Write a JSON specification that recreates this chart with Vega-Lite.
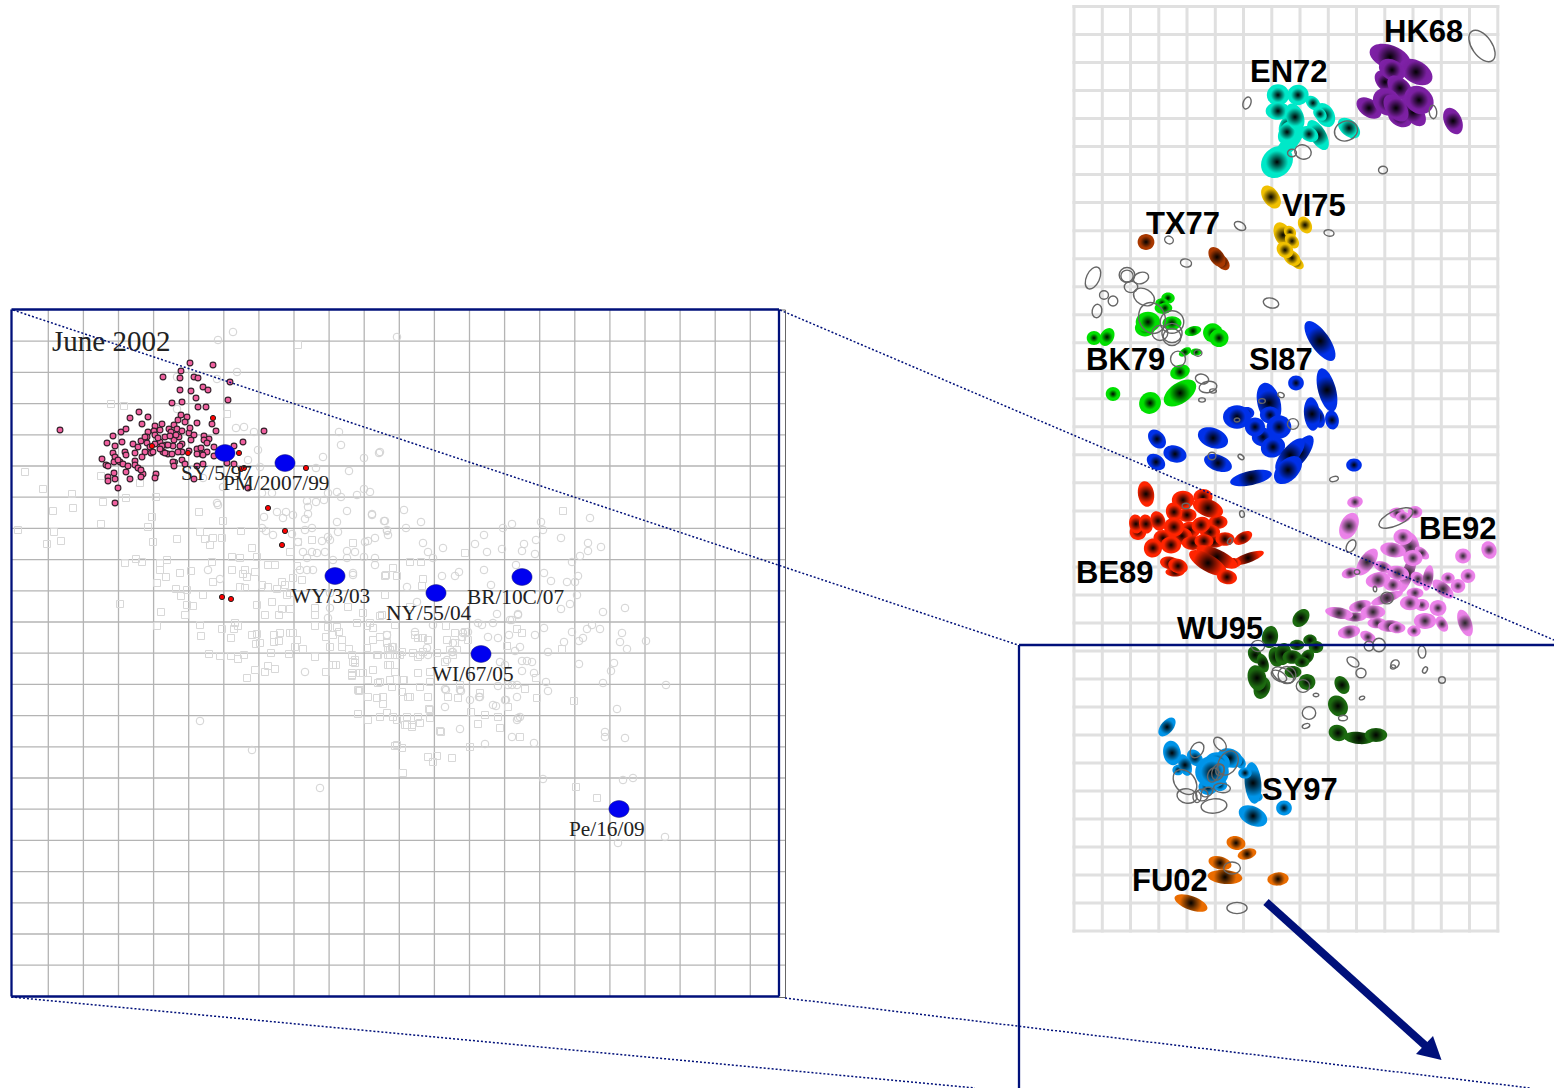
{"$schema":"https://vega.github.io/schema/vega-lite/v6.json","width":1554,"height":1088,"autosize":"none","padding":0,"background":"white","config":{"view":{"stroke":null}},
"datasets":{
"gridR":[{"x":1074,"y":5,"x2":1074,"y2":932.5},{"x":1102.3,"y":5,"x2":1102.3,"y2":932.5},{"x":1130.5,"y":5,"x2":1130.5,"y2":932.5},{"x":1158.8,"y":5,"x2":1158.8,"y2":932.5},{"x":1187,"y":5,"x2":1187,"y2":932.5},{"x":1215.3,"y":5,"x2":1215.3,"y2":932.5},{"x":1243.5,"y":5,"x2":1243.5,"y2":932.5},{"x":1271.8,"y":5,"x2":1271.8,"y2":932.5},{"x":1300,"y":5,"x2":1300,"y2":932.5},{"x":1328.3,"y":5,"x2":1328.3,"y2":932.5},{"x":1356.5,"y":5,"x2":1356.5,"y2":932.5},{"x":1384.8,"y":5,"x2":1384.8,"y2":932.5},{"x":1413,"y":5,"x2":1413,"y2":932.5},{"x":1441.3,"y":5,"x2":1441.3,"y2":932.5},{"x":1469.5,"y":5,"x2":1469.5,"y2":932.5},{"x":1497.8,"y":5,"x2":1497.8,"y2":932.5},
{"x":1072.5,"y":6.5,"x2":1499.3,"y2":6.5},{"x":1072.5,"y":34.5,"x2":1499.3,"y2":34.5},{"x":1072.5,"y":62.5,"x2":1499.3,"y2":62.5},{"x":1072.5,"y":90.6,"x2":1499.3,"y2":90.6},{"x":1072.5,"y":118.6,"x2":1499.3,"y2":118.6},{"x":1072.5,"y":146.6,"x2":1499.3,"y2":146.6},{"x":1072.5,"y":174.6,"x2":1499.3,"y2":174.6},{"x":1072.5,"y":202.6,"x2":1499.3,"y2":202.6},{"x":1072.5,"y":230.7,"x2":1499.3,"y2":230.7},{"x":1072.5,"y":258.7,"x2":1499.3,"y2":258.7},{"x":1072.5,"y":286.7,"x2":1499.3,"y2":286.7},{"x":1072.5,"y":314.7,"x2":1499.3,"y2":314.7},{"x":1072.5,"y":342.7,"x2":1499.3,"y2":342.7},{"x":1072.5,"y":370.8,"x2":1499.3,"y2":370.8},{"x":1072.5,"y":398.8,"x2":1499.3,"y2":398.8},{"x":1072.5,"y":426.8,"x2":1499.3,"y2":426.8},{"x":1072.5,"y":454.8,"x2":1499.3,"y2":454.8},{"x":1072.5,"y":482.8,"x2":1499.3,"y2":482.8},{"x":1072.5,"y":510.9,"x2":1499.3,"y2":510.9},{"x":1072.5,"y":538.9,"x2":1499.3,"y2":538.9},{"x":1072.5,"y":566.9,"x2":1499.3,"y2":566.9},{"x":1072.5,"y":594.9,"x2":1499.3,"y2":594.9},{"x":1072.5,"y":622.9,"x2":1499.3,"y2":622.9},{"x":1072.5,"y":651,"x2":1499.3,"y2":651},{"x":1072.5,"y":679,"x2":1499.3,"y2":679},{"x":1072.5,"y":707,"x2":1499.3,"y2":707},{"x":1072.5,"y":735,"x2":1499.3,"y2":735},{"x":1072.5,"y":763,"x2":1499.3,"y2":763},{"x":1072.5,"y":791,"x2":1499.3,"y2":791},{"x":1072.5,"y":819.1,"x2":1499.3,"y2":819.1},{"x":1072.5,"y":847.1,"x2":1499.3,"y2":847.1},{"x":1072.5,"y":875.1,"x2":1499.3,"y2":875.1},{"x":1072.5,"y":903.1,"x2":1499.3,"y2":903.1},{"x":1072.5,"y":931.1,"x2":1499.3,"y2":931.1}],
"gridL":[{"x":48.3,"y":310,"x2":48.3,"y2":996},{"x":83.4,"y":310,"x2":83.4,"y2":996},{"x":118.5,"y":310,"x2":118.5,"y2":996},{"x":153.6,"y":310,"x2":153.6,"y2":996},{"x":188.7,"y":310,"x2":188.7,"y2":996},{"x":223.8,"y":310,"x2":223.8,"y2":996},{"x":258.9,"y":310,"x2":258.9,"y2":996},{"x":294,"y":310,"x2":294,"y2":996},{"x":329.1,"y":310,"x2":329.1,"y2":996},{"x":364.2,"y":310,"x2":364.2,"y2":996},{"x":399.3,"y":310,"x2":399.3,"y2":996},{"x":434.4,"y":310,"x2":434.4,"y2":996},{"x":469.5,"y":310,"x2":469.5,"y2":996},{"x":504.6,"y":310,"x2":504.6,"y2":996},{"x":539.7,"y":310,"x2":539.7,"y2":996},{"x":574.8,"y":310,"x2":574.8,"y2":996},{"x":609.9,"y":310,"x2":609.9,"y2":996},{"x":645,"y":310,"x2":645,"y2":996},{"x":680.1,"y":310,"x2":680.1,"y2":996},{"x":715.2,"y":310,"x2":715.2,"y2":996},{"x":750.3,"y":310,"x2":750.3,"y2":996},
{"x":12,"y":341.2,"x2":785,"y2":341.2},{"x":12,"y":372.4,"x2":785,"y2":372.4},{"x":12,"y":403.6,"x2":785,"y2":403.6},{"x":12,"y":434.8,"x2":785,"y2":434.8},{"x":12,"y":466,"x2":785,"y2":466},{"x":12,"y":497.2,"x2":785,"y2":497.2},{"x":12,"y":528.4,"x2":785,"y2":528.4},{"x":12,"y":559.6,"x2":785,"y2":559.6},{"x":12,"y":590.8,"x2":785,"y2":590.8},{"x":12,"y":622,"x2":785,"y2":622},{"x":12,"y":653.2,"x2":785,"y2":653.2},{"x":12,"y":684.4,"x2":785,"y2":684.4},{"x":12,"y":715.6,"x2":785,"y2":715.6},{"x":12,"y":746.8,"x2":785,"y2":746.8},{"x":12,"y":778,"x2":785,"y2":778},{"x":12,"y":809.2,"x2":785,"y2":809.2},{"x":12,"y":840.4,"x2":785,"y2":840.4},{"x":12,"y":871.6,"x2":785,"y2":871.6},{"x":12,"y":902.8,"x2":785,"y2":902.8},{"x":12,"y":934,"x2":785,"y2":934},{"x":12,"y":965.2,"x2":785,"y2":965.2}],
"outerGrey":[{"x":785.5,"y":310,"x2":785.5,"y2":997.5},{"x":779,"y":310,"x2":785.5,"y2":310},{"x":779,"y":997.5,"x2":785.5,"y2":997.5}],
"frames":[{"x":11.5,"y":309.5,"x2":779,"y2":309.5},{"x":11.5,"y":996.5,"x2":779,"y2":996.5},{"x":11.5,"y":309.5,"x2":11.5,"y2":996.5},{"x":779,"y":309.5,"x2":779,"y2":996.5},{"x":1019,"y":645,"x2":1554,"y2":645},{"x":1019,"y":645,"x2":1019,"y2":1088}],
"dotted":[{"x":13,"y":310,"x2":1018,"y2":645},{"x":780,"y":310,"x2":1554,"y2":640},{"x":11,"y":997,"x2":975,"y2":1088},{"x":785,"y":998,"x2":1530,"y2":1088}],
"arrow":[{"x":1266,"y":902,"x2":1428,"y2":1048}],
"arrowHead":[{"x":1430,"y":1050}],
"ellipses":[
{"c":"HK68","x":1390,"y":57,"major":38,"ratio":1.8,"tilt":20},{"c":"HK68","x":1416,"y":72,"major":32,"ratio":1.6,"tilt":30},{"c":"HK68","x":1385,"y":82,"major":23,"ratio":1.6,"tilt":50},{"c":"HK68","x":1392,"y":70,"major":25,"ratio":1.4,"tilt":30},{"c":"HK68","x":1400,"y":88,"major":27,"ratio":1.6,"tilt":45},{"c":"HK68","x":1400,"y":117,"major":23,"ratio":1.4,"tilt":30},{"c":"HK68","x":1413,"y":112,"major":30,"ratio":1.8,"tilt":50},{"c":"HK68","x":1369,"y":108,"major":25,"ratio":1.6,"tilt":35},{"c":"HK68","x":1387,"y":102,"major":27,"ratio":1.2,"tilt":40},{"c":"HK68","x":1396,"y":108,"major":28,"ratio":1.6,"tilt":50},{"c":"HK68","x":1419,"y":100,"major":28,"ratio":1.2,"tilt":40},{"c":"HK68","x":1453,"y":121,"major":25,"ratio":1.6,"tilt":65},
{"c":"tail","x":1289,"y":144,"major":40,"ratio":3,"tilt":-50},
{"c":"EN72","x":1287,"y":125,"major":20,"ratio":1.6,"tilt":-60},{"c":"EN72","x":1287,"y":132,"major":22,"ratio":1.6,"tilt":-60},{"c":"EN72","x":1278,"y":95,"major":20,"ratio":1.05,"tilt":0},{"c":"EN72","x":1298,"y":95,"major":19,"ratio":1.05,"tilt":0},{"c":"EN72","x":1278,"y":111,"major":22,"ratio":1.4,"tilt":0},{"c":"EN72","x":1295,"y":117,"major":25,"ratio":1.6,"tilt":70},{"c":"EN72","x":1325,"y":115,"major":23,"ratio":1.4,"tilt":60},{"c":"EN72","x":1313,"y":103,"major":15,"ratio":1.4,"tilt":45},{"c":"EN72","x":1320,"y":114,"major":14,"ratio":1.4,"tilt":45},{"c":"EN72","x":1318,"y":135,"major":30,"ratio":2.1,"tilt":60},{"c":"EN72","x":1309,"y":134,"major":18,"ratio":1.4,"tilt":30},{"c":"EN72","x":1277,"y":162,"major":31,"ratio":1.2,"tilt":-45},{"c":"EN72","x":1349,"y":128,"major":23,"ratio":1.6,"tilt":40},
{"c":"VI75","x":1271,"y":197,"major":23,"ratio":1.6,"tilt":55},{"c":"VI75","x":1305,"y":225,"major":16,"ratio":1.4,"tilt":60},{"c":"VI75","x":1297,"y":263,"major":14,"ratio":1.6,"tilt":40},{"c":"VI75","x":1292,"y":258,"major":17,"ratio":1.4,"tilt":40},{"c":"VI75","x":1283,"y":235,"major":24,"ratio":1.6,"tilt":65},{"c":"VI75","x":1290,"y":232,"major":12,"ratio":1.2,"tilt":50},{"c":"VI75","x":1292,"y":241,"major":15,"ratio":1.4,"tilt":50},{"c":"VI75","x":1285,"y":250,"major":16,"ratio":1.2,"tilt":40},
{"c":"TX77","x":1146,"y":242,"major":15,"ratio":1.05,"tilt":0},{"c":"TX77","x":1222,"y":262,"major":17,"ratio":1.6,"tilt":50},{"c":"TX77","x":1217,"y":257,"major":20,"ratio":1.6,"tilt":55},
{"c":"BK79","x":1168,"y":298,"major":12,"ratio":1.2,"tilt":0},{"c":"BK79","x":1163,"y":308,"major":15,"ratio":1.4,"tilt":0},{"c":"BK79","x":1162,"y":303,"major":12,"ratio":1.4,"tilt":0},{"c":"BK79","x":1165,"y":308,"major":13,"ratio":1.4,"tilt":0},{"c":"BK79","x":1145,"y":328,"major":18,"ratio":1.2,"tilt":0},{"c":"BK79","x":1148,"y":322,"major":22,"ratio":1.2,"tilt":0},{"c":"BK79","x":1172,"y":323,"major":17,"ratio":1.4,"tilt":0},{"c":"BK79","x":1094,"y":338,"major":13,"ratio":1.05,"tilt":0},{"c":"BK79","x":1107,"y":337,"major":17,"ratio":1.4,"tilt":-60},{"c":"BK79","x":1193,"y":331,"major":15,"ratio":1.8,"tilt":-15},{"c":"BK79","x":1213,"y":333,"major":18,"ratio":1.05,"tilt":30},{"c":"BK79","x":1219,"y":338,"major":17,"ratio":1.05,"tilt":0},{"c":"BK79","x":1185,"y":352,"major":12,"ratio":1.8,"tilt":-30},{"c":"BK79","x":1196,"y":352,"major":10,"ratio":1.6,"tilt":0},{"c":"BK79","x":1180,"y":372,"major":18,"ratio":1.4,"tilt":-20},{"c":"BK79","x":1180,"y":393,"major":33,"ratio":1.8,"tilt":-35},{"c":"BK79","x":1150,"y":403,"major":20,"ratio":1.05,"tilt":-50},{"c":"BK79","x":1113,"y":394,"major":13,"ratio":1.05,"tilt":0},
{"c":"SI87","x":1320,"y":341,"major":42,"ratio":2.5,"tilt":55},{"c":"SI87","x":1327,"y":390,"major":40,"ratio":2.5,"tilt":75},{"c":"SI87","x":1296,"y":383,"major":14,"ratio":1.05,"tilt":0},{"c":"SI87","x":1269,"y":403,"major":37,"ratio":1.8,"tilt":75},{"c":"SI87","x":1247,"y":413,"major":13,"ratio":1.2,"tilt":0},{"c":"SI87","x":1270,"y":415,"major":18,"ratio":1.2,"tilt":0},{"c":"SI87","x":1237,"y":417,"major":25,"ratio":1.2,"tilt":0},{"c":"SI87","x":1263,"y":437,"major":20,"ratio":1.2,"tilt":0},{"c":"SI87","x":1255,"y":427,"major":18,"ratio":1.05,"tilt":0},{"c":"SI87","x":1279,"y":427,"major":22,"ratio":1.05,"tilt":0},{"c":"SI87","x":1273,"y":447,"major":22,"ratio":1.2,"tilt":-20},{"c":"SI87","x":1318,"y":417,"major":20,"ratio":1.8,"tilt":70},{"c":"SI87","x":1312,"y":414,"major":30,"ratio":2.1,"tilt":85},{"c":"SI87","x":1332,"y":420,"major":17,"ratio":1.4,"tilt":80},{"c":"SI87","x":1157,"y":439,"major":19,"ratio":1.4,"tilt":50},{"c":"SI87","x":1175,"y":454,"major":21,"ratio":1.4,"tilt":15},{"c":"SI87","x":1156,"y":462,"major":18,"ratio":1.4,"tilt":35},{"c":"SI87","x":1213,"y":438,"major":28,"ratio":1.6,"tilt":20},{"c":"SI87","x":1218,"y":463,"major":26,"ratio":1.8,"tilt":20},{"c":"SI87","x":1251,"y":478,"major":38,"ratio":3,"tilt":-12},{"c":"SI87","x":1300,"y":453,"major":37,"ratio":2.5,"tilt":-55},{"c":"SI87","x":1290,"y":455,"major":37,"ratio":2.5,"tilt":-50},{"c":"SI87","x":1288,"y":470,"major":30,"ratio":1.6,"tilt":-45},{"c":"SI87","x":1354,"y":465,"major":14,"ratio":1.2,"tilt":0},
{"c":"BE89","x":1146,"y":494,"major":23,"ratio":1.6,"tilt":80},{"c":"BE89","x":1183,"y":500,"major":20,"ratio":1.2,"tilt":0},{"c":"BE89","x":1203,"y":497,"major":17,"ratio":1.2,"tilt":0},{"c":"BE89","x":1190,"y":530,"major":18,"ratio":1.2,"tilt":0},{"c":"BE89","x":1182,"y":536,"major":18,"ratio":1.2,"tilt":0},{"c":"BE89","x":1218,"y":522,"major":17,"ratio":1.4,"tilt":0},{"c":"BE89","x":1208,"y":508,"major":28,"ratio":1.8,"tilt":20},{"c":"BE89","x":1187,"y":515,"major":17,"ratio":1.4,"tilt":0},{"c":"BE89","x":1174,"y":512,"major":17,"ratio":1.2,"tilt":70},{"c":"BE89","x":1138,"y":532,"major":15,"ratio":1.05,"tilt":0},{"c":"BE89","x":1136,"y":524,"major":17,"ratio":1.4,"tilt":80},{"c":"BE89","x":1146,"y":524,"major":17,"ratio":1.4,"tilt":80},{"c":"BE89","x":1158,"y":521,"major":18,"ratio":1.4,"tilt":70},{"c":"BE89","x":1210,"y":532,"major":18,"ratio":1.4,"tilt":0},{"c":"BE89","x":1174,"y":527,"major":18,"ratio":1.05,"tilt":0},{"c":"BE89","x":1201,"y":525,"major":17,"ratio":1.2,"tilt":-20},{"c":"BE89","x":1163,"y":538,"major":17,"ratio":1.2,"tilt":0},{"c":"BE89","x":1193,"y":543,"major":20,"ratio":1.6,"tilt":0},{"c":"BE89","x":1214,"y":542,"major":18,"ratio":1.8,"tilt":0},{"c":"BE89","x":1171,"y":545,"major":18,"ratio":1.2,"tilt":0},{"c":"BE89","x":1204,"y":541,"major":17,"ratio":1.4,"tilt":0},{"c":"BE89","x":1225,"y":539,"major":17,"ratio":1.4,"tilt":0},{"c":"BE89","x":1243,"y":538,"major":18,"ratio":1.8,"tilt":-30},{"c":"BE89","x":1153,"y":548,"major":17,"ratio":1.05,"tilt":-70},{"c":"BE89","x":1248,"y":558,"major":30,"ratio":3.6,"tilt":-20},{"c":"BE89","x":1175,"y":572,"major":17,"ratio":2.1,"tilt":0},{"c":"BE89","x":1170,"y":563,"major":18,"ratio":1.6,"tilt":10},{"c":"BE89","x":1178,"y":566,"major":18,"ratio":1.4,"tilt":20},{"c":"BE89","x":1233,"y":563,"major":14,"ratio":1.6,"tilt":0},{"c":"BE89","x":1217,"y":557,"major":40,"ratio":3,"tilt":25},{"c":"BE89","x":1208,"y":563,"major":38,"ratio":2.5,"tilt":30},{"c":"BE89","x":1227,"y":577,"major":18,"ratio":1.4,"tilt":10},
{"c":"BE92","x":1355,"y":502,"major":14,"ratio":1.4,"tilt":-10},{"c":"BE92","x":1349,"y":526,"major":25,"ratio":1.6,"tilt":-65},{"c":"BE92","x":1397,"y":513,"major":14,"ratio":1.4,"tilt":0},{"c":"BE92","x":1415,"y":512,"major":13,"ratio":1.2,"tilt":0},{"c":"BE92","x":1403,"y":517,"major":13,"ratio":1.4,"tilt":0},{"c":"BE92","x":1408,"y":573,"major":37,"ratio":3.6,"tilt":-70},{"c":"BE92","x":1410,"y":547,"major":27,"ratio":1.6,"tilt":80},{"c":"BE92","x":1403,"y":537,"major":17,"ratio":1.2,"tilt":0},{"c":"BE92","x":1422,"y":553,"major":15,"ratio":1.8,"tilt":40},{"c":"BE92","x":1393,"y":550,"major":23,"ratio":1.8,"tilt":10},{"c":"BE92","x":1413,"y":558,"major":17,"ratio":1.2,"tilt":0},{"c":"BE92","x":1463,"y":556,"major":14,"ratio":1.05,"tilt":0},{"c":"BE92","x":1489,"y":550,"major":16,"ratio":1.2,"tilt":70},{"c":"BE92","x":1367,"y":562,"major":28,"ratio":2.1,"tilt":-55},{"c":"BE92","x":1383,"y":567,"major":17,"ratio":1.8,"tilt":20},{"c":"BE92","x":1350,"y":573,"major":15,"ratio":1.6,"tilt":-15},{"c":"BE92","x":1393,"y":585,"major":17,"ratio":1.6,"tilt":0},{"c":"BE92","x":1378,"y":580,"major":22,"ratio":1.6,"tilt":-10},{"c":"BE92","x":1398,"y":573,"major":20,"ratio":1.6,"tilt":10},{"c":"BE92","x":1418,"y":579,"major":15,"ratio":1.4,"tilt":45},{"c":"BE92","x":1428,"y":578,"major":23,"ratio":2.5,"tilt":-80},{"c":"BE92","x":1448,"y":578,"major":12,"ratio":1.2,"tilt":0},{"c":"BE92","x":1443,"y":589,"major":23,"ratio":2.1,"tilt":40},{"c":"BE92","x":1458,"y":586,"major":13,"ratio":1.05,"tilt":0},{"c":"BE92","x":1468,"y":576,"major":13,"ratio":1.05,"tilt":0},{"c":"BE92","x":1415,"y":593,"major":15,"ratio":1.6,"tilt":0},{"c":"BE92","x":1387,"y":598,"major":30,"ratio":3.6,"tilt":-20},{"c":"BE92","x":1422,"y":605,"major":13,"ratio":1.2,"tilt":0},{"c":"BE92","x":1410,"y":603,"major":18,"ratio":1.4,"tilt":0},{"c":"BE92","x":1438,"y":608,"major":15,"ratio":1.05,"tilt":0},{"c":"BE92","x":1360,"y":606,"major":20,"ratio":2.1,"tilt":-15},{"c":"BE92","x":1355,"y":617,"major":20,"ratio":2.5,"tilt":0},{"c":"BE92","x":1339,"y":613,"major":25,"ratio":2.5,"tilt":10},{"c":"BE92","x":1373,"y":612,"major":22,"ratio":1.8,"tilt":0},{"c":"BE92","x":1425,"y":621,"major":20,"ratio":1.4,"tilt":0},{"c":"BE92","x":1377,"y":623,"major":17,"ratio":1.8,"tilt":0},{"c":"BE92","x":1390,"y":626,"major":22,"ratio":2.1,"tilt":0},{"c":"BE92","x":1349,"y":632,"major":20,"ratio":1.8,"tilt":-10},{"c":"BE92","x":1442,"y":624,"major":15,"ratio":1.6,"tilt":60},{"c":"BE92","x":1465,"y":623,"major":25,"ratio":2.1,"tilt":70},{"c":"BE92","x":1414,"y":631,"major":12,"ratio":1.2,"tilt":0},{"c":"BE92","x":1368,"y":637,"major":15,"ratio":1.6,"tilt":30},{"c":"BE92","x":1397,"y":628,"major":15,"ratio":1.6,"tilt":0},
{"c":"WU95","x":1301,"y":618,"major":18,"ratio":1.4,"tilt":-50},{"c":"WU95","x":1270,"y":637,"major":20,"ratio":1.4,"tilt":-80},{"c":"WU95","x":1310,"y":640,"major":12,"ratio":1.2,"tilt":0},{"c":"WU95","x":1316,"y":647,"major":13,"ratio":1.2,"tilt":0},{"c":"WU95","x":1297,"y":645,"major":13,"ratio":1.4,"tilt":0},{"c":"WU95","x":1255,"y":655,"major":16,"ratio":1.4,"tilt":60},{"c":"WU95","x":1263,"y":663,"major":17,"ratio":1.8,"tilt":70},{"c":"WU95","x":1293,"y":672,"major":15,"ratio":1.4,"tilt":0},{"c":"WU95","x":1276,"y":657,"major":18,"ratio":1.4,"tilt":75},{"c":"WU95","x":1283,"y":654,"major":20,"ratio":1.4,"tilt":-80},{"c":"WU95","x":1292,"y":657,"major":17,"ratio":1.4,"tilt":0},{"c":"WU95","x":1307,"y":657,"major":15,"ratio":1.4,"tilt":-50},{"c":"WU95","x":1302,"y":662,"major":13,"ratio":1.4,"tilt":0},{"c":"WU95","x":1262,"y":688,"major":20,"ratio":1.4,"tilt":-70},{"c":"WU95","x":1257,"y":678,"major":23,"ratio":1.4,"tilt":75},{"c":"WU95","x":1307,"y":682,"major":15,"ratio":1.05,"tilt":0},{"c":"WU95","x":1342,"y":685,"major":17,"ratio":1.4,"tilt":60},{"c":"WU95","x":1338,"y":706,"major":20,"ratio":1.2,"tilt":55},{"c":"WU95","x":1338,"y":733,"major":17,"ratio":1.2,"tilt":20},{"c":"WU95","x":1359,"y":738,"major":27,"ratio":2.5,"tilt":5},{"c":"WU95","x":1376,"y":735,"major":20,"ratio":1.6,"tilt":0},
{"c":"SY97","x":1167,"y":727,"major":20,"ratio":1.8,"tilt":-50},{"c":"SY97","x":1172,"y":753,"major":22,"ratio":1.4,"tilt":80},{"c":"SY97","x":1178,"y":770,"major":10,"ratio":1.05,"tilt":0},{"c":"SY97","x":1195,"y":758,"major":17,"ratio":1.4,"tilt":50},{"c":"SY97","x":1185,"y":765,"major":20,"ratio":1.8,"tilt":70},{"c":"SY97","x":1240,"y":762,"major":13,"ratio":1.4,"tilt":60},{"c":"SY97","x":1230,"y":758,"major":23,"ratio":1.4,"tilt":20},{"c":"SY97","x":1217,"y":763,"major":23,"ratio":1.2,"tilt":0},{"c":"SY97","x":1208,"y":787,"major":17,"ratio":1.2,"tilt":0},{"c":"SY97","x":1220,"y":785,"major":13,"ratio":1.2,"tilt":0},{"c":"SY97","x":1212,"y":772,"major":30,"ratio":1.05,"tilt":0},{"c":"SY97","x":1257,"y":797,"major":10,"ratio":1.2,"tilt":0},{"c":"SY97","x":1253,"y":783,"major":37,"ratio":2.5,"tilt":85},{"c":"SY97","x":1245,"y":773,"major":12,"ratio":1.2,"tilt":0},{"c":"SY97","x":1284,"y":808,"major":14,"ratio":1.05,"tilt":0},{"c":"SY97","x":1253,"y":816,"major":27,"ratio":1.6,"tilt":25},
{"c":"FU02","x":1236,"y":843,"major":17,"ratio":1.4,"tilt":10},{"c":"FU02","x":1247,"y":854,"major":17,"ratio":1.8,"tilt":-15},{"c":"FU02","x":1220,"y":863,"major":21,"ratio":1.8,"tilt":15},{"c":"FU02","x":1225,"y":877,"major":31,"ratio":2.5,"tilt":5},{"c":"FU02","x":1278,"y":879,"major":19,"ratio":1.6,"tilt":-5},{"c":"FU02","x":1191,"y":903,"major":31,"ratio":2.5,"tilt":20},
{"c":"ring","x":1482,"y":46,"major":32,"ratio":1.8,"tilt":55},{"c":"ring","x":1247,"y":103,"major":11,"ratio":1.6,"tilt":-70},{"c":"ring","x":1433,"y":112,"major":12,"ratio":1.8,"tilt":85},{"c":"ring","x":1346,"y":131,"major":21,"ratio":1.2,"tilt":-20},{"c":"ring","x":1303,"y":152,"major":15,"ratio":1.2,"tilt":20},{"c":"ring","x":1292,"y":153,"major":8,"ratio":1.2,"tilt":0},{"c":"ring","x":1383,"y":170,"major":8,"ratio":1.2,"tilt":0},{"c":"ring","x":1240,"y":226,"major":11,"ratio":1.6,"tilt":30},{"c":"ring","x":1329,"y":233,"major":9,"ratio":1.6,"tilt":10},{"c":"ring","x":1169,"y":240,"major":8,"ratio":1.2,"tilt":30},{"c":"ring","x":1186,"y":263,"major":10,"ratio":1.4,"tilt":15},{"c":"ring","x":1093,"y":278,"major":21,"ratio":1.8,"tilt":-65},{"c":"ring","x":1104,"y":295,"major":8,"ratio":1.05,"tilt":0},{"c":"ring","x":1113,"y":301,"major":9,"ratio":1.05,"tilt":90},{"c":"ring","x":1097,"y":311,"major":12,"ratio":1.4,"tilt":-80},{"c":"ring","x":1127,"y":275,"major":14,"ratio":1.05,"tilt":0},{"c":"ring","x":1127,"y":276,"major":11,"ratio":1.05,"tilt":0},{"c":"ring","x":1141,"y":278,"major":14,"ratio":1.4,"tilt":-20},{"c":"ring","x":1131,"y":287,"major":12,"ratio":1.2,"tilt":0},{"c":"ring","x":1144,"y":297,"major":20,"ratio":1.4,"tilt":30},{"c":"ring","x":1271,"y":303,"major":14,"ratio":1.6,"tilt":15},{"c":"ring","x":1152,"y":318,"major":28,"ratio":1.2,"tilt":70},{"c":"ring","x":1172,"y":322,"major":21,"ratio":1.05,"tilt":0},{"c":"ring","x":1160,"y":333,"major":14,"ratio":1.05,"tilt":0},{"c":"ring","x":1172,"y":333,"major":18,"ratio":1.05,"tilt":0},{"c":"ring","x":1172,"y":337,"major":16,"ratio":1.05,"tilt":0},{"c":"ring","x":1178,"y":359,"major":14,"ratio":1.05,"tilt":90},{"c":"ring","x":1198,"y":353,"major":7,"ratio":1.2,"tilt":0},{"c":"ring","x":1202,"y":379,"major":12,"ratio":1.4,"tilt":15},{"c":"ring","x":1208,"y":387,"major":16,"ratio":1.6,"tilt":-10},{"c":"ring","x":1213,"y":391,"major":6,"ratio":1.6,"tilt":0},{"c":"ring","x":1202,"y":400,"major":6,"ratio":1.6,"tilt":0},{"c":"ring","x":1262,"y":401,"major":6,"ratio":1.4,"tilt":0},{"c":"ring","x":1281,"y":395,"major":6,"ratio":1.4,"tilt":30},{"c":"ring","x":1237,"y":420,"major":5,"ratio":1.4,"tilt":0},{"c":"ring","x":1293,"y":424,"major":10,"ratio":1.05,"tilt":0},{"c":"ring","x":1212,"y":456,"major":7,"ratio":1.05,"tilt":0},{"c":"ring","x":1241,"y":457,"major":6,"ratio":1.6,"tilt":40},{"c":"ring","x":1334,"y":479,"major":8,"ratio":1.8,"tilt":-15},{"c":"ring","x":1186,"y":506,"major":7,"ratio":1.4,"tilt":0},{"c":"ring","x":1242,"y":514,"major":6,"ratio":1.4,"tilt":80},{"c":"ring","x":1230,"y":541,"major":6,"ratio":1.6,"tilt":-60},{"c":"ring","x":1351,"y":546,"major":12,"ratio":1.6,"tilt":-60},{"c":"ring","x":1396,"y":518,"major":33,"ratio":2.5,"tilt":-25},{"c":"ring","x":1357,"y":572,"major":5,"ratio":1.2,"tilt":0},{"c":"ring","x":1375,"y":589,"major":5,"ratio":1.6,"tilt":85},{"c":"ring","x":1387,"y":598,"major":11,"ratio":1.05,"tilt":0},{"c":"ring","x":1258,"y":646,"major":12,"ratio":1.2,"tilt":0},{"c":"ring","x":1369,"y":646,"major":9,"ratio":1.05,"tilt":90},{"c":"ring","x":1379,"y":645,"major":12,"ratio":1.05,"tilt":90},{"c":"ring","x":1422,"y":652,"major":11,"ratio":1.6,"tilt":85},{"c":"ring","x":1353,"y":662,"major":12,"ratio":1.6,"tilt":35},{"c":"ring","x":1361,"y":673,"major":9,"ratio":1.05,"tilt":0},{"c":"ring","x":1395,"y":664,"major":8,"ratio":1.2,"tilt":-40},{"c":"ring","x":1393,"y":667,"major":4.5,"ratio":1.2,"tilt":0},{"c":"ring","x":1425,"y":670,"major":6,"ratio":1.6,"tilt":-60},{"c":"ring","x":1442,"y":680,"major":6,"ratio":1.05,"tilt":0},{"c":"ring","x":1316,"y":695,"major":5,"ratio":1.6,"tilt":0},{"c":"ring","x":1362,"y":698,"major":5,"ratio":1.6,"tilt":-20},{"c":"ring","x":1309,"y":713,"major":12,"ratio":1.05,"tilt":0},{"c":"ring","x":1343,"y":718,"major":8,"ratio":1.6,"tilt":0},{"c":"ring","x":1306,"y":726,"major":7,"ratio":1.8,"tilt":-20},{"c":"ring","x":1283,"y":675,"major":21,"ratio":1.8,"tilt":30},{"c":"ring","x":1287,"y":675,"major":16,"ratio":1.05,"tilt":0},{"c":"ring","x":1279,"y":676,"major":15,"ratio":1.8,"tilt":30},{"c":"ring","x":1303,"y":686,"major":12,"ratio":1.05,"tilt":0},{"c":"ring","x":1220,"y":744,"major":14,"ratio":1.6,"tilt":50},{"c":"ring","x":1197,"y":750,"major":15,"ratio":1.4,"tilt":-55},{"c":"ring","x":1228,"y":763,"major":23,"ratio":1.4,"tilt":-60},{"c":"ring","x":1218,"y":772,"major":15,"ratio":1.4,"tilt":-70},{"c":"ring","x":1213,"y":775,"major":13,"ratio":1.4,"tilt":-70},{"c":"ring","x":1220,"y":770,"major":10,"ratio":1.4,"tilt":-70},{"c":"ring","x":1185,"y":782,"major":25,"ratio":1.4,"tilt":50},{"c":"ring","x":1187,"y":796,"major":18,"ratio":1.4,"tilt":10},{"c":"ring","x":1222,"y":788,"major":15,"ratio":1.8,"tilt":5},{"c":"ring","x":1207,"y":792,"major":11,"ratio":1.4,"tilt":-30},{"c":"ring","x":1202,"y":795,"major":11,"ratio":1.05,"tilt":0},{"c":"ring","x":1197,"y":797,"major":10,"ratio":1.4,"tilt":90},{"c":"ring","x":1214,"y":806,"major":23,"ratio":1.8,"tilt":-5},{"c":"ring","x":1232,"y":868,"major":15,"ratio":1.4,"tilt":0},{"c":"ring","x":1237,"y":908,"major":18,"ratio":1.8,"tilt":0},
{"c":"strain","x":225,"y":453,"major":18,"ratio":1.2,"tilt":0},{"c":"strain","x":285,"y":463,"major":18,"ratio":1.2,"tilt":0},{"c":"strain","x":335,"y":576,"major":18,"ratio":1.2,"tilt":0},{"c":"strain","x":436,"y":593,"major":18,"ratio":1.2,"tilt":0},{"c":"strain","x":522,"y":577,"major":18,"ratio":1.2,"tilt":0},{"c":"strain","x":481,"y":654,"major":18,"ratio":1.2,"tilt":0},{"c":"strain","x":619,"y":809,"major":18,"ratio":1.2,"tilt":0}],
"circles":[{"x":233,"y":332},{"x":218,"y":340},{"x":237,"y":372},{"x":177,"y":377},{"x":217,"y":379},{"x":177,"y":409},{"x":236,"y":428},{"x":244,"y":427},{"x":254,"y":432},{"x":339,"y":432},{"x":341,"y":445},{"x":258,"y":450},{"x":323,"y":457},{"x":364,"y":458},{"x":380,"y":452},{"x":379,"y":453},{"x":397,"y":337},{"x":316,"y":468},{"x":349,"y":471},{"x":248,"y":460},{"x":260,"y":467},{"x":203,"y":478},{"x":223,"y":487},{"x":262,"y":493},{"x":272,"y":493},{"x":328,"y":493},{"x":337,"y":492},{"x":341,"y":497},{"x":357,"y":495},{"x":364,"y":489},{"x":370,"y":492},{"x":307,"y":501},{"x":316,"y":502},{"x":324,"y":500},{"x":308,"y":507},{"x":217,"y":503},{"x":218,"y":505},{"x":277,"y":512},{"x":286,"y":512},{"x":293,"y":515},{"x":264,"y":517},{"x":283,"y":518},{"x":305,"y":519},{"x":308,"y":514},{"x":347,"y":511},{"x":372,"y":515},{"x":384,"y":521},{"x":337,"y":522},{"x":388,"y":535},{"x":387,"y":530},{"x":338,"y":532},{"x":312,"y":528},{"x":305,"y":530},{"x":262,"y":528},{"x":266,"y":531},{"x":273,"y":535},{"x":292,"y":534},{"x":298,"y":542},{"x":322,"y":541},{"x":328,"y":537},{"x":330,"y":540},{"x":365,"y":542},{"x":368,"y":541},{"x":375,"y":538},{"x":347,"y":551},{"x":355,"y":552},{"x":375,"y":558},{"x":303,"y":552},{"x":312,"y":552},{"x":317,"y":553},{"x":325,"y":552},{"x":333,"y":560},{"x":375,"y":565},{"x":347,"y":558},{"x":364,"y":557},{"x":307,"y":558},{"x":300,"y":570},{"x":307,"y":570},{"x":313,"y":570},{"x":353,"y":575},{"x":208,"y":570},{"x":330,"y":593},{"x":372,"y":514},{"x":404,"y":510},{"x":385,"y":521},{"x":421,"y":522},{"x":406,"y":528},{"x":387,"y":531},{"x":423,"y":543},{"x":443,"y":548},{"x":428,"y":552},{"x":433,"y":558},{"x":484,"y":535},{"x":503,"y":528},{"x":512,"y":524},{"x":541,"y":522},{"x":543,"y":530},{"x":561,"y":538},{"x":536,"y":540},{"x":524,"y":544},{"x":475,"y":544},{"x":487,"y":552},{"x":502,"y":549},{"x":522,"y":551},{"x":535,"y":554},{"x":588,"y":543},{"x":588,"y":551},{"x":601,"y":547},{"x":580,"y":556},{"x":572,"y":562},{"x":590,"y":518},{"x":516,"y":565},{"x":544,"y":573},{"x":551,"y":581},{"x":567,"y":582},{"x":575,"y":582},{"x":578,"y":576},{"x":484,"y":570},{"x":459,"y":572},{"x":455,"y":576},{"x":442,"y":576},{"x":491,"y":585},{"x":577,"y":595},{"x":570,"y":604},{"x":561,"y":609},{"x":625,"y":608},{"x":603,"y":612},{"x":518,"y":614},{"x":497,"y":614},{"x":512,"y":620},{"x":544,"y":628},{"x":572,"y":632},{"x":535,"y":635},{"x":564,"y":642},{"x":592,"y":625},{"x":600,"y":629},{"x":587,"y":629},{"x":579,"y":641},{"x":583,"y":638},{"x":622,"y":633},{"x":620,"y":642},{"x":627,"y":649},{"x":646,"y":641},{"x":548,"y":652},{"x":579,"y":664},{"x":614,"y":663},{"x":611,"y":671},{"x":603,"y":683},{"x":666,"y":685},{"x":548,"y":691},{"x":546,"y":682},{"x":617,"y":709},{"x":605,"y":732},{"x":605,"y":737},{"x":625,"y":738},{"x":534,"y":743},{"x":543,"y":779},{"x":623,"y":780},{"x":633,"y":778},{"x":320,"y":788},{"x":518,"y":718},{"x":517,"y":720},{"x":512,"y":737},{"x":485,"y":744},{"x":460,"y":729},{"x":445,"y":707},{"x":480,"y":697},{"x":470,"y":700},{"x":493,"y":705},{"x":506,"y":700},{"x":517,"y":697},{"x":461,"y":691},{"x":446,"y":690},{"x":498,"y":686},{"x":508,"y":685},{"x":534,"y":673},{"x":522,"y":671},{"x":527,"y":661},{"x":532,"y":662},{"x":522,"y":661},{"x":515,"y":651},{"x":520,"y":647},{"x":509,"y":635},{"x":488,"y":637},{"x":498,"y":638},{"x":482,"y":625},{"x":468,"y":632},{"x":462,"y":637},{"x":453,"y":643},{"x":452,"y":652},{"x":305,"y":672},{"x":427,"y":648},{"x":433,"y":625},{"x":415,"y":632},{"x":407,"y":587},{"x":417,"y":602},{"x":387,"y":635},{"x":393,"y":647},{"x":220,"y":579},{"x":200,"y":721},{"x":252,"y":750},{"x":328,"y":618},{"x":330,"y":608},{"x":353,"y":573},{"x":520,"y":717},{"x":496,"y":706},{"x":665,"y":837},{"x":618,"y":843},{"x":478,"y":623},{"x":493,"y":623},{"x":510,"y":620},{"x":518,"y":615},{"x":500,"y":662},{"x":505,"y":665},{"x":512,"y":685},{"x":517,"y":685},{"x":505,"y":700},{"x":463,"y":633},{"x":453,"y":652},{"x":428,"y":655},{"x":447,"y":660},{"x":460,"y":690},{"x":445,"y":689},{"x":479,"y":697}],
"squares":[{"x":298,"y":345},{"x":111,"y":404},{"x":124,"y":406},{"x":227,"y":414},{"x":25,"y":472},{"x":43,"y":489},{"x":72,"y":494},{"x":101,"y":476},{"x":140,"y":483},{"x":103,"y":502},{"x":126,"y":498},{"x":53,"y":511},{"x":73,"y":508},{"x":156,"y":497},{"x":152,"y":517},{"x":101,"y":524},{"x":148,"y":527},{"x":18,"y":530},{"x":54,"y":532},{"x":61,"y":541},{"x":47,"y":544},{"x":199,"y":512},{"x":200,"y":532},{"x":177,"y":539},{"x":153,"y":542},{"x":205,"y":539},{"x":210,"y":545},{"x":213,"y":538},{"x":222,"y":538},{"x":223,"y":521},{"x":241,"y":531},{"x":252,"y":548},{"x":232,"y":557},{"x":240,"y":558},{"x":257,"y":557},{"x":245,"y":570},{"x":232,"y":570},{"x":268,"y":565},{"x":275,"y":565},{"x":125,"y":563},{"x":136,"y":559},{"x":142,"y":562},{"x":160,"y":563},{"x":167,"y":560},{"x":160,"y":570},{"x":166,"y":577},{"x":180,"y":573},{"x":191,"y":571},{"x":212,"y":562},{"x":157,"y":583},{"x":176,"y":589},{"x":187,"y":590},{"x":181,"y":596},{"x":203,"y":595},{"x":213,"y":582},{"x":243,"y":574},{"x":247,"y":577},{"x":255,"y":572},{"x":262,"y":585},{"x":268,"y":587},{"x":240,"y":587},{"x":245,"y":588},{"x":285,"y":585},{"x":282,"y":582},{"x":277,"y":589},{"x":297,"y":566},{"x":293,"y":578},{"x":302,"y":580},{"x":290,"y":593},{"x":386,"y":575},{"x":120,"y":604},{"x":161,"y":612},{"x":157,"y":626},{"x":185,"y":615},{"x":193,"y":606},{"x":187,"y":605},{"x":200,"y":625},{"x":201,"y":636},{"x":222,"y":629},{"x":231,"y":638},{"x":235,"y":623},{"x":238,"y":626},{"x":234,"y":629},{"x":209,"y":654},{"x":220,"y":656},{"x":231,"y":656},{"x":244,"y":655},{"x":238,"y":659},{"x":255,"y":670},{"x":268,"y":666},{"x":265,"y":672},{"x":275,"y":669},{"x":247,"y":678},{"x":252,"y":635},{"x":257,"y":634},{"x":256,"y":644},{"x":260,"y":643},{"x":274,"y":635},{"x":280,"y":633},{"x":274,"y":642},{"x":279,"y":641},{"x":271,"y":653},{"x":289,"y":654},{"x":315,"y":657},{"x":290,"y":633},{"x":293,"y":633},{"x":297,"y":640},{"x":303,"y":649},{"x":295,"y":647},{"x":315,"y":626},{"x":326,"y":637},{"x":330,"y":647},{"x":342,"y":647},{"x":349,"y":649},{"x":336,"y":665},{"x":326,"y":672},{"x":352,"y":676},{"x":359,"y":691},{"x":368,"y":697},{"x":377,"y":698},{"x":383,"y":697},{"x":383,"y":704},{"x":358,"y":714},{"x":368,"y":720},{"x":380,"y":717},{"x":387,"y":713},{"x":395,"y":746},{"x":265,"y":615},{"x":257,"y":605},{"x":272,"y":602},{"x":279,"y":615},{"x":282,"y":609},{"x":290,"y":609},{"x":287,"y":595},{"x":315,"y":608},{"x":315,"y":615},{"x":348,"y":607},{"x":363,"y":613},{"x":380,"y":616},{"x":357,"y":623},{"x":367,"y":626},{"x":373,"y":628},{"x":387,"y":635},{"x":388,"y":648},{"x":393,"y":647},{"x":378,"y":655},{"x":388,"y":665},{"x":352,"y":673},{"x":363,"y":673},{"x":368,"y":680},{"x":378,"y":683},{"x":390,"y":680},{"x":392,"y":687},{"x":355,"y":660},{"x":337,"y":627},{"x":328,"y":627},{"x":333,"y":635},{"x":339,"y":632},{"x":342,"y":640},{"x":367,"y":648},{"x":373,"y":640},{"x":333,"y":665},{"x":563,"y":511},{"x":465,"y":553},{"x":410,"y":562},{"x":421,"y":562},{"x":393,"y":568},{"x":397,"y":576},{"x":385,"y":576},{"x":423,"y":579},{"x":422,"y":586},{"x":385,"y":595},{"x":353,"y":543},{"x":312,"y":540},{"x":298,"y":542},{"x":290,"y":552},{"x":410,"y":607},{"x":562,"y":649},{"x":446,"y":626},{"x":522,"y":633},{"x":517,"y":629},{"x":507,"y":646},{"x":447,"y":640},{"x":418,"y":638},{"x":423,"y":638},{"x":420,"y":655},{"x":437,"y":653},{"x":395,"y":625},{"x":382,"y":615},{"x":370,"y":623},{"x":400,"y":655},{"x":390,"y":655},{"x":392,"y":647},{"x":352,"y":655},{"x":355,"y":663},{"x":373,"y":670},{"x":380,"y":682},{"x":404,"y":680},{"x":418,"y":673},{"x":430,"y":682},{"x":408,"y":697},{"x":428,"y":697},{"x":402,"y":692},{"x":358,"y":690},{"x":397,"y":720},{"x":407,"y":725},{"x":412,"y":725},{"x":418,"y":717},{"x":430,"y":718},{"x":429,"y":709},{"x":448,"y":697},{"x":458,"y":698},{"x":460,"y":685},{"x":480,"y":693},{"x":471,"y":712},{"x":485,"y":715},{"x":498,"y":717},{"x":478,"y":724},{"x":500,"y":728},{"x":441,"y":732},{"x":520,"y":737},{"x":537,"y":698},{"x":525,"y":689},{"x":574,"y":701},{"x":508,"y":707},{"x":402,"y":748},{"x":470,"y":747},{"x":428,"y":757},{"x":437,"y":756},{"x":452,"y":758},{"x":433,"y":762},{"x":403,"y":773},{"x":576,"y":787},{"x":597,"y":798},{"x":536,"y":678},{"x":380,"y":637},{"x":387,"y":643},{"x":390,"y":650},{"x":397,"y":655},{"x":388,"y":655},{"x":402,"y":652},{"x":377,"y":655},{"x":353,"y":662},{"x":352,"y":675},{"x":360,"y":673},{"x":390,"y":665},{"x":395,"y":672},{"x":403,"y":680},{"x":418,"y":657},{"x":413,"y":653},{"x":423,"y":652},{"x":415,"y":635},{"x":422,"y":638},{"x":428,"y":640},{"x":455,"y":633},{"x":462,"y":637},{"x":455,"y":643},{"x":450,"y":650},{"x":457,"y":650},{"x":453,"y":655},{"x":465,"y":632},{"x":468,"y":640},{"x":445,"y":662},{"x":430,"y":672},{"x":420,"y":687},{"x":410,"y":697},{"x":360,"y":690},{"x":393,"y":717},{"x":407,"y":717},{"x":405,"y":725},{"x":412,"y":727},{"x":420,"y":723},{"x":430,"y":710},{"x":440,"y":731},{"x":397,"y":745}],
"pink":[{"x":60,"y":430},{"x":107,"y":443},{"x":113,"y":436},{"x":115,"y":446},{"x":121,"y":432},{"x":126,"y":429},{"x":130,"y":418},{"x":139,"y":412},{"x":148,"y":417},{"x":142,"y":424},{"x":122,"y":442},{"x":133,"y":444},{"x":141,"y":441},{"x":148,"y":432},{"x":147,"y":437},{"x":155,"y":426},{"x":162,"y":424},{"x":154,"y":431},{"x":155,"y":435},{"x":160,"y":430},{"x":169,"y":429},{"x":174,"y":425},{"x":178,"y":420},{"x":181,"y":415},{"x":187,"y":417},{"x":185,"y":422},{"x":197,"y":423},{"x":177,"y":429},{"x":171,"y":432},{"x":182,"y":431},{"x":189,"y":433},{"x":194,"y":435},{"x":212,"y":424},{"x":216,"y":431},{"x":179,"y":437},{"x":174,"y":440},{"x":204,"y":436},{"x":209,"y":439},{"x":204,"y":440},{"x":214,"y":447},{"x":182,"y":444},{"x":173,"y":446},{"x":180,"y":446},{"x":166,"y":445},{"x":160,"y":442},{"x":162,"y":446},{"x":155,"y":444},{"x":147,"y":443},{"x":145,"y":452},{"x":142,"y":457},{"x":135,"y":453},{"x":125,"y":452},{"x":126,"y":455},{"x":113,"y":453},{"x":115,"y":457},{"x":120,"y":462},{"x":114,"y":462},{"x":102,"y":459},{"x":106,"y":465},{"x":108,"y":466},{"x":123,"y":464},{"x":128,"y":466},{"x":135,"y":461},{"x":135,"y":465},{"x":138,"y":468},{"x":126,"y":472},{"x":143,"y":474},{"x":141,"y":477},{"x":114,"y":473},{"x":108,"y":477},{"x":108,"y":481},{"x":115,"y":479},{"x":130,"y":479},{"x":156,"y":474},{"x":155,"y":478},{"x":118,"y":488},{"x":115,"y":503},{"x":163,"y":452},{"x":168,"y":454},{"x":172,"y":454},{"x":151,"y":453},{"x":153,"y":452},{"x":189,"y":451},{"x":182,"y":452},{"x":197,"y":449},{"x":201,"y":448},{"x":207,"y":452},{"x":201,"y":454},{"x":197,"y":454},{"x":203,"y":455},{"x":214,"y":456},{"x":173,"y":462},{"x":182,"y":460},{"x":185,"y":464},{"x":174,"y":466},{"x":203,"y":464},{"x":197,"y":466},{"x":194,"y":479},{"x":227,"y":463},{"x":234,"y":464},{"x":234,"y":446},{"x":243,"y":442},{"x":248,"y":488},{"x":264,"y":431},{"x":228,"y":400},{"x":230,"y":382},{"x":213,"y":365},{"x":190,"y":363},{"x":181,"y":371},{"x":180,"y":378},{"x":194,"y":377},{"x":198,"y":378},{"x":163,"y":377},{"x":203,"y":387},{"x":208,"y":390},{"x":180,"y":390},{"x":191,"y":391},{"x":196,"y":398},{"x":182,"y":402},{"x":172,"y":403},{"x":198,"y":407},{"x":206,"y":407},{"x":145,"y":437},{"x":158,"y":438},{"x":165,"y":437},{"x":170,"y":436},{"x":168,"y":445},{"x":176,"y":435},{"x":165,"y":453},{"x":178,"y":452},{"x":191,"y":440},{"x":207,"y":443},{"x":138,"y":447},{"x":118,"y":460},{"x":141,"y":470},{"x":150,"y":447},{"x":190,"y":428},{"x":160,"y":449}],
"red":[{"x":152,"y":446},{"x":213,"y":418},{"x":239,"y":453},{"x":241,"y":469},{"x":244,"y":468},{"x":306,"y":468},{"x":268,"y":508},{"x":285,"y":531},{"x":282,"y":545},{"x":222,"y":597},{"x":231,"y":599},{"x":188,"y":453}],
"grey":[{"x":175,"y":462}],
"bigLabels":[{"x":1384,"y":42,"label":"HK68"},{"x":1250,"y":82,"label":"EN72"},{"x":1282,"y":216,"label":"VI75"},{"x":1146,"y":234,"label":"TX77"},{"x":1086,"y":370,"label":"BK79"},{"x":1249,"y":370,"label":"SI87"},{"x":1419,"y":539,"label":"BE92"},{"x":1076,"y":583,"label":"BE89"},{"x":1177,"y":639,"label":"WU95"},{"x":1262,"y":800,"label":"SY97"},{"x":1132,"y":891,"label":"FU02"}],
"strainLabels":[{"x":181,"y":480,"label":"SY/5/97"},{"x":223,"y":490,"label":"PM/2007/99"},{"x":291,"y":603,"label":"WY/3/03"},{"x":386,"y":620,"label":"NY/55/04"},{"x":467,"y":604,"label":"BR/10C/07"},{"x":432,"y":681,"label":"WI/67/05"},{"x":569,"y":836,"label":"Pe/16/09"}],
"title":[{"x":52,"y":351,"label":"June 2002"}]
},
"data":{"name":"gridR"},
"encoding":{"x":{"field":"x","type":"quantitative","axis":null,"scale":{"domain":[0,1554],"nice":false,"zero":false}},"y":{"field":"y","type":"quantitative","axis":null,"scale":{"domain":[0,1088],"reverse":true,"nice":false,"zero":false}}},
"layer":[
{"data":{"name":"gridL"},"mark":{"type":"rule","stroke":"#b4b4b4","strokeWidth":1.3},"encoding":{"x2":{"field":"x2"},"y2":{"field":"y2"}}},
{"data":{"name":"outerGrey"},"mark":{"type":"rule","stroke":"#666666","strokeWidth":1},"encoding":{"x2":{"field":"x2"},"y2":{"field":"y2"}}},
{"data":{"name":"gridR"},"mark":{"type":"rule","stroke":"#e0e0e0","strokeWidth":3},"encoding":{"x2":{"field":"x2"},"y2":{"field":"y2"}}},
{"data":{"name":"circles"},"mark":{"type":"point","shape":"circle","filled":false,"stroke":"#d2d2d2","strokeWidth":1,"size":58,"opacity":1},"encoding":{}},
{"data":{"name":"squares"},"mark":{"type":"point","shape":"square","filled":false,"stroke":"#d8d8d8","strokeWidth":1,"size":49,"opacity":1},"encoding":{}},
{"data":{"name":"grey"},"mark":{"type":"point","shape":"circle","filled":true,"fill":"#777777","stroke":"#333333","strokeWidth":1,"size":30,"opacity":1},"encoding":{}},
{"data":{"name":"pink"},"mark":{"type":"point","shape":"circle","filled":true,"fill":"#f0609f","stroke":"#33202a","strokeWidth":1.1,"size":34,"opacity":1},"encoding":{}},
{"data":{"name":"red"},"mark":{"type":"point","shape":"circle","filled":true,"fill":"#ff0000","stroke":"#222222","strokeWidth":1,"size":27,"opacity":1},"encoding":{}},
{"data":{"name":"ellipses"},
"encoding":{"size":{"field":"major","type":"quantitative","legend":null,"scale":{"type":"pow","exponent":2,"domain":[0,100],"range":[0,12544]}},"angle":{"field":"tilt","type":"quantitative","legend":null,"scale":{"domain":[-90,90],"range":[-90,90]}},"shape":{"field":"ratio","type":"nominal","legend":null,"scale":{"domain":[1.05,1.2,1.4,1.6,1.8,2.1,2.5,3,3.6],"range":[
"M-1,0C-1,-.526,-.552,-.952,0,-.952C.552,-.952,1,-.526,1,0C1,.526,.552,.952,0,.952C-.552,.952,-1,.526,-1,0Z",
"M-1,0C-1,-.46,-.552,-.833,0,-.833C.552,-.833,1,-.46,1,0C1,.46,.552,.833,0,.833C-.552,.833,-1,.46,-1,0Z",
"M-1,0C-1,-.394,-.552,-.714,0,-.714C.552,-.714,1,-.394,1,0C1,.394,.552,.714,0,.714C-.552,.714,-1,.394,-1,0Z",
"M-1,0C-1,-.345,-.552,-.625,0,-.625C.552,-.625,1,-.345,1,0C1,.345,.552,.625,0,.625C-.552,.625,-1,.345,-1,0Z",
"M-1,0C-1,-.307,-.552,-.556,0,-.556C.552,-.556,1,-.307,1,0C1,.307,.552,.556,0,.556C-.552,.556,-1,.307,-1,0Z",
"M-1,0C-1,-.263,-.552,-.476,0,-.476C.552,-.476,1,-.263,1,0C1,.263,.552,.476,0,.476C-.552,.476,-1,.263,-1,0Z",
"M-1,0C-1,-.221,-.552,-.4,0,-.4C.552,-.4,1,-.221,1,0C1,.221,.552,.4,0,.4C-.552,.4,-1,.221,-1,0Z",
"M-1,0C-1,-.184,-.552,-.333,0,-.333C.552,-.333,1,-.184,1,0C1,.184,.552,.333,0,.333C-.552,.333,-1,.184,-1,0Z",
"M-1,0C-1,-.154,-.552,-.278,0,-.278C.552,-.278,1,-.154,1,0C1,.154,.552,.278,0,.278C-.552,.278,-1,.154,-1,0Z"]}}},
"layer":[
{"transform":[{"filter":"datum.c==='HK68'"}],"mark":{"type":"point","filled":true,"opacity":1,"strokeWidth":0,"fill":{"gradient":"radial","x1":0.5,"y1":0.5,"r1":0,"x2":0.5,"y2":0.5,"r2":0.5,"stops":[{"offset":0,"color":"#000000"},{"offset":0.6,"color":"#7a1fa0"},{"offset":1,"color":"#7f22a8"}]}}},
{"transform":[{"filter":"datum.c==='tail'"}],"mark":{"type":"point","filled":true,"opacity":1,"strokeWidth":0,"fill":"#00e8c8"}},
{"transform":[{"filter":"datum.c==='EN72'"}],"mark":{"type":"point","filled":true,"opacity":1,"strokeWidth":0,"fill":{"gradient":"radial","x1":0.5,"y1":0.5,"r1":0,"x2":0.5,"y2":0.5,"r2":0.5,"stops":[{"offset":0,"color":"#000000"},{"offset":0.65,"color":"#00e8c8"},{"offset":1,"color":"#00e8c8"}]}}},
{"transform":[{"filter":"datum.c==='VI75'"}],"mark":{"type":"point","filled":true,"opacity":1,"strokeWidth":0,"fill":{"gradient":"radial","x1":0.5,"y1":0.5,"r1":0,"x2":0.5,"y2":0.5,"r2":0.5,"stops":[{"offset":0,"color":"#000000"},{"offset":0.65,"color":"#f0c000"},{"offset":1,"color":"#f0c000"}]}}},
{"transform":[{"filter":"datum.c==='TX77'"}],"mark":{"type":"point","filled":true,"opacity":1,"strokeWidth":0,"fill":{"gradient":"radial","x1":0.5,"y1":0.5,"r1":0,"x2":0.5,"y2":0.5,"r2":0.5,"stops":[{"offset":0,"color":"#000000"},{"offset":0.7,"color":"#a83800"},{"offset":1,"color":"#a83800"}]}}},
{"transform":[{"filter":"datum.c==='BK79'"}],"mark":{"type":"point","filled":true,"opacity":1,"strokeWidth":0,"fill":{"gradient":"radial","x1":0.5,"y1":0.5,"r1":0,"x2":0.5,"y2":0.5,"r2":0.5,"stops":[{"offset":0,"color":"#000000"},{"offset":0.6,"color":"#00e000"},{"offset":1,"color":"#00e000"}]}}},
{"transform":[{"filter":"datum.c==='SI87'"}],"mark":{"type":"point","filled":true,"opacity":1,"strokeWidth":0,"fill":{"gradient":"radial","x1":0.5,"y1":0.5,"r1":0,"x2":0.5,"y2":0.5,"r2":0.5,"stops":[{"offset":0,"color":"#000000"},{"offset":0.6,"color":"#0030e8"},{"offset":1,"color":"#0030e8"}]}}},
{"transform":[{"filter":"datum.c==='BE89'"}],"mark":{"type":"point","filled":true,"opacity":1,"strokeWidth":0,"fill":{"gradient":"radial","x1":0.5,"y1":0.5,"r1":0,"x2":0.5,"y2":0.5,"r2":0.5,"stops":[{"offset":0,"color":"#000000"},{"offset":0.7,"color":"#ff2400"},{"offset":1,"color":"#ff2400"}]}}},
{"transform":[{"filter":"datum.c==='BE92'"}],"mark":{"type":"point","filled":true,"opacity":1,"strokeWidth":0,"fill":{"gradient":"radial","x1":0.5,"y1":0.5,"r1":0,"x2":0.5,"y2":0.5,"r2":0.5,"stops":[{"offset":0,"color":"#222222"},{"offset":0.6,"color":"#e880e6"},{"offset":1,"color":"#ee84ec"}]}}},
{"transform":[{"filter":"datum.c==='WU95'"}],"mark":{"type":"point","filled":true,"opacity":1,"strokeWidth":0,"fill":{"gradient":"radial","x1":0.5,"y1":0.5,"r1":0,"x2":0.5,"y2":0.5,"r2":0.5,"stops":[{"offset":0,"color":"#000000"},{"offset":0.7,"color":"#1c6a10"},{"offset":1,"color":"#1c6a10"}]}}},
{"transform":[{"filter":"datum.c==='SY97'"}],"mark":{"type":"point","filled":true,"opacity":1,"strokeWidth":0,"fill":{"gradient":"radial","x1":0.5,"y1":0.5,"r1":0,"x2":0.5,"y2":0.5,"r2":0.5,"stops":[{"offset":0,"color":"#000000"},{"offset":0.65,"color":"#0094e8"},{"offset":1,"color":"#0094e8"}]}}},
{"transform":[{"filter":"datum.c==='FU02'"}],"mark":{"type":"point","filled":true,"opacity":1,"strokeWidth":0,"fill":{"gradient":"radial","x1":0.5,"y1":0.5,"r1":0,"x2":0.5,"y2":0.5,"r2":0.5,"stops":[{"offset":0,"color":"#000000"},{"offset":0.65,"color":"#ea6c00"},{"offset":1,"color":"#ea6c00"}]}}},
{"transform":[{"filter":"datum.c==='ring'"}],"mark":{"type":"point","filled":false,"opacity":1,"stroke":"#666666","strokeWidth":1.4}},
{"transform":[{"filter":"datum.c==='strain'"}],"mark":{"type":"point","filled":true,"opacity":1,"fill":"#0000f0","stroke":"#202070","strokeWidth":0.5}}
]},
{"data":{"name":"bigLabels"},"mark":{"type":"text","align":"left","baseline":"alphabetic","font":"Liberation Sans","fontWeight":"bold","fontSize":31,"fill":"#000000"},"encoding":{"text":{"field":"label","type":"nominal"}}},
{"data":{"name":"strainLabels"},"mark":{"type":"text","align":"left","baseline":"alphabetic","font":"Liberation Serif","fontSize":21.3,"fill":"#222222"},"encoding":{"text":{"field":"label","type":"nominal"}}},
{"data":{"name":"title"},"mark":{"type":"text","align":"left","baseline":"alphabetic","font":"Liberation Serif","fontSize":29,"fill":"#222222"},"encoding":{"text":{"field":"label","type":"nominal"}}},
{"data":{"name":"frames"},"mark":{"type":"rule","stroke":"#00107a","strokeWidth":2.3},"encoding":{"x2":{"field":"x2"},"y2":{"field":"y2"}}},
{"data":{"name":"dotted"},"mark":{"type":"rule","stroke":"#00107a","strokeWidth":1.5,"strokeDash":[2,2]},"encoding":{"x2":{"field":"x2"},"y2":{"field":"y2"}}},
{"data":{"name":"arrow"},"mark":{"type":"rule","stroke":"#00107a","strokeWidth":8},"encoding":{"x2":{"field":"x2"},"y2":{"field":"y2"}}},
{"data":{"name":"arrowHead"},"mark":{"type":"point","filled":true,"opacity":1,"fill":"#00107a","strokeWidth":0,"size":4,"shape":"M11.5,10L3,-14L-14,4Z"},"encoding":{}}
]}
